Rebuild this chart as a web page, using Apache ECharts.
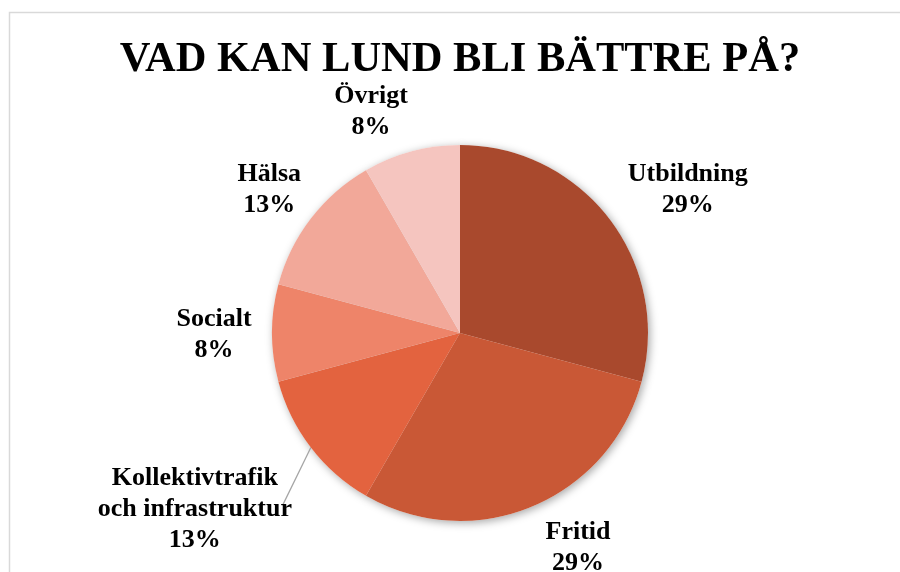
<!DOCTYPE html>
<html><head><meta charset="utf-8">
<script src="https://cdn.jsdelivr.net/npm/echarts@6/dist/echarts.min.js"></script>
<style>html,body{margin:0;padding:0;background:#fff}#c{width:900px;height:572px}</style>
</head><body><div id="c"></div>
<script>
const titleText = 'VAD KAN LUND BLI BÄTTRE PÅ?';
const categories = ['Utbildning', 'Fritid', 'Kollektivtrafik\noch infrastruktur', 'Socialt', 'Hälsa', 'Övrigt'];
const values = [7, 7, 3, 2, 3, 2];

const colors = ['#A9492D', '#C95836', '#E3633F', '#EE8469', '#F2A899', '#F5C5BF'];
const labelOffsets = [[35, 5], [25, -10], [0, 0], [-3, 2], [2, 5], [-26, 14]];
const leaderIndex = 2;

const total = values.reduce((a, b) => a + b, 0);
const FONT = "'Liberation Serif', 'Times New Roman', serif";

function fmt(p) {
  const pct = Math.round(p.value / total * 100);
  return p.name.split('\n').map(s => '{t|' + s + '}').join('\n') + '\n{t|' + pct + '%}';
}
const rich = { t: { fontFamily: FONT, fontWeight: 'bold', fontSize: 26, lineHeight: 31, color: '#000', align: 'center' } };

const center = [460, 333];
const R = 188;

const mainData = categories.map((c, i) => ({
  name: c, value: values[i], itemStyle: { color: colors[i] },
  label: { show: i === leaderIndex },
  labelLine: { show: i === leaderIndex }
}));
const shadowData = categories.map((c, i) => ({ name: c, value: values[i] }));
const ghostData = categories.map((c, i) => ({
  name: c, value: values[i],
  label: { show: i !== leaderIndex, offset: labelOffsets[i] }
}));

const chart = echarts.init(document.getElementById('c'), null, { renderer: 'canvas' });
chart.setOption({
  animation: false,
  backgroundColor: '#fff',
  title: {
    text: titleText, left: 455, textAlign: 'center', top: 34,
    textStyle: { fontFamily: FONT, fontWeight: 'bold', fontSize: 42.5, color: '#000' }
  },
  graphic: [{
    type: 'rect', silent: true, z: -10,
    shape: { x: 9.5, y: 12.5, width: 1200, height: 1200 },
    style: { fill: 'none', stroke: '#D9D9D9', lineWidth: 1.5 }
  }],
  series: [
    {
      type: 'pie', center: center, radius: R, startAngle: 90, clockwise: true, z: 1,
      silent: true, data: shadowData, avoidLabelOverlap: false,
      itemStyle: { color: '#fff', shadowBlur: 8, shadowColor: 'rgba(0,0,0,0.35)', shadowOffsetX: 2, shadowOffsetY: 2 },
      label: { show: false }, labelLine: { show: false }
    },
    {
      type: 'pie', center: center, radius: R, startAngle: 90, clockwise: true, z: 2,
      data: mainData, avoidLabelOverlap: false,
      label: { position: 'outside', formatter: fmt, rich: rich, distance: 4 },
      labelLine: { length: 20, length2: 4, lineStyle: { color: '#A6A6A6', width: 1.3 } },
      labelLayout: function (p) {
        const dx = 6, dy = 50;
        const r = p.labelRect;
        const rx = r.x + r.width + dx;
        const cy = r.y + r.height / 2 + dy;
        const pts = p.labelLinePoints;
        if (!pts) return { dx: dx, dy: dy };
        return {
          dx: dx, dy: dy,
          labelLinePoints: [pts[0], [rx - 9, cy - 5], [rx - 11, cy - 5]]
        };
      },
      emphasis: { disabled: true }
    },
    {
      type: 'pie', center: center, radius: 2 * 240, startAngle: 90, clockwise: true, z: 3,
      silent: true, data: ghostData, avoidLabelOverlap: false,
      itemStyle: { color: 'rgba(0,0,0,0)' },
      label: { position: 'inside', formatter: fmt, rich: rich },
      labelLine: { show: false },
      emphasis: { disabled: true }
    }
  ]
});
</script></body></html>
